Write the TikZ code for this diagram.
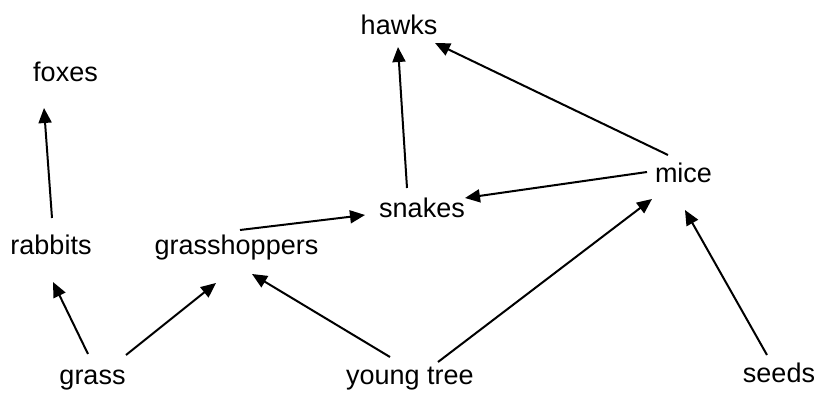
\documentclass[tikz,border=0pt]{standalone}
\usepackage{fontspec}
\setmainfont{Liberation Sans}
\usepackage{tikz}
\usetikzlibrary{arrows.meta}

\begin{document}
\begin{tikzpicture}[x=1pt, y=-1pt,
    animal/.style={anchor=base, inner sep=0pt, font=\fontsize{27}{32}\selectfont},
    feeds/.style={-{Triangle[length=15pt,width=13pt]}, line width=2pt}]
    \useasboundingbox (0,0) rectangle (820,395);

    % Organisms
    \node (hawks) [animal] at (399,35) {hawks};
    \node (foxes) [animal] at (65.5,82) {foxes};
    \node (mice) [animal] at (683.5,183) {mice};
    \node (snakes) [animal] at (422,218) {snakes};
    \node (rabbits) [animal] at (51,255) {rabbits};
    \node (grasshoppers) [animal] at (236.5,255) {grasshoppers};
    \node (grass) [animal] at (92.5,385) {grass};
    \node (youngtree) [animal] at (410,385) {young tree};
    \node (seeds) [animal] at (779,383) {seeds};

    % Who is eaten by whom
    \draw[feeds] ([xshift=1pt,yshift=37pt]rabbits.base) -- ([xshift=-21.5pt,yshift=-26pt]foxes.base);
    \draw[feeds] ([xshift=-4.5pt,yshift=31pt]grass.base) -- ([xshift=2pt,yshift=-27pt]rabbits.base);
    \draw[feeds] ([xshift=33.5pt,yshift=30pt]grass.base) -- ([xshift=-20.5pt,yshift=-28pt]grasshoppers.base);
    \draw[feeds] ([xshift=-20pt,yshift=28pt]youngtree.base) -- ([xshift=15.5pt,yshift=-19pt]grasshoppers.base);
    \draw[feeds] ([xshift=3.5pt,yshift=25pt]grasshoppers.base) -- ([xshift=-57pt,yshift=3pt]snakes.base);
    \draw[feeds] ([xshift=-15pt,yshift=30pt]snakes.base) -- ([xshift=-1pt,yshift=-12pt]hawks.base);
    \draw[feeds] ([xshift=-15.5pt,yshift=28pt]mice.base) -- ([xshift=36pt,yshift=-8pt]hawks.base);
    \draw[feeds] ([xshift=-36.5pt,yshift=11pt]mice.base) -- ([xshift=43pt,yshift=20pt]snakes.base);
    \draw[feeds] ([xshift=28pt,yshift=23pt]youngtree.base) -- ([xshift=-31.5pt,yshift=-16pt]mice.base);
    \draw[feeds] ([xshift=-12pt,yshift=28pt]seeds.base) -- ([xshift=1.5pt,yshift=-27pt]mice.base);
\end{tikzpicture}
\end{document}
